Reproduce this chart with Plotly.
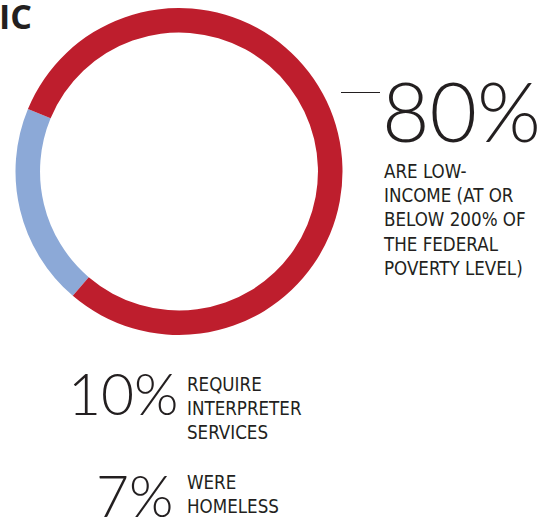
import plotly.graph_objects as go

W, H = 553, 525

# data
ring_labels = ["Other", "Low-income (≤200% FPL)"]
ring_values = [20, 80]
ring_colors = ["#8CA9D7", "#BE1E2D"]

stat_values = ["80%", "10%", "7%"]
stat_texts = [
    "ARE LOW-<br>INCOME (AT OR<br>BELOW 200% OF<br>THE FEDERAL<br>POVERTY LEVEL)",
    "REQUIRE<br>INTERPRETER<br>SERVICES",
    "WERE<br>HOMELESS",
]
heading = "IC"

def px(x):
    return x / W

def py(y):
    return 1 - y / H

fig = go.Figure()
fig.add_trace(go.Pie(
    labels=ring_labels,
    values=ring_values,
    hole=0.85,
    sort=False,
    direction="clockwise",
    rotation=220.5,
    marker=dict(colors=ring_colors, line=dict(width=0)),
    textinfo="none",
    hoverinfo="label+percent",
    showlegend=False,
    domain=dict(x=[px(15), px(343)], y=[py(335), py(8)]),
))

TXT = "#231F20"
BIG = "Lato"
BODY = "DejaVu Sans Condensed"

ann = []
ann.append(dict(text="<b>" + heading + "</b>", x=px(34), y=py(-9), xanchor="right", yanchor="top",
                font=dict(family="Open Sans", size=34, color=TXT), showarrow=False))
# big numbers
ann.append(dict(text=stat_values[0], x=px(380), y=py(161), xanchor="left", yanchor="bottom",
                font=dict(family=BIG, size=82, color=TXT, weight=300), showarrow=False))
ann.append(dict(text=stat_values[1], x=px(66), y=py(429), xanchor="left", yanchor="bottom",
                font=dict(family=BIG, size=57, color=TXT, weight=300), showarrow=False))
ann.append(dict(text=stat_values[2], x=px(94), y=py(531), xanchor="left", yanchor="bottom",
                font=dict(family=BIG, size=57, color=TXT, weight=300), showarrow=False))
# descriptions
ann.append(dict(text=stat_texts[0], x=px(381), y=py(159), xanchor="left", yanchor="top", align="left",
                font=dict(family=BODY, size=18.6, color=TXT), showarrow=False))
ann.append(dict(text=stat_texts[1], x=px(185), y=py(372), xanchor="left", yanchor="top", align="left",
                font=dict(family=BODY, size=18.6, color=TXT), showarrow=False))
ann.append(dict(text=stat_texts[2], x=px(185), y=py(470), xanchor="left", yanchor="top", align="left",
                font=dict(family=BODY, size=18.6, color=TXT), showarrow=False))

fig.update_layout(
    width=W, height=H,
    margin=dict(l=0, r=0, t=0, b=0),
    paper_bgcolor="white", plot_bgcolor="white",
    annotations=ann,
    shapes=[dict(type="line", xref="paper", yref="paper",
                 x0=px(341), x1=px(380), y0=py(92.5), y1=py(92.5),
                 line=dict(color=TXT, width=1))],
)

fig.write_html("out.html")
